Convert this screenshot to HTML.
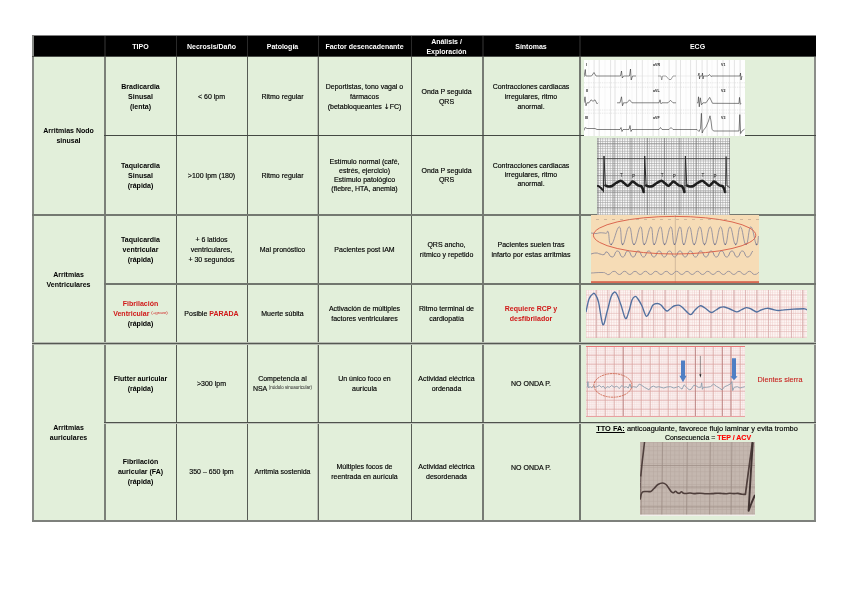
<!DOCTYPE html>
<html><head><meta charset="utf-8">
<style>
html,body{margin:0;padding:0;background:#fff;}
body{width:848px;height:599px;position:relative;overflow:hidden;will-change:transform;font-family:"Liberation Sans",sans-serif;color:#000;}
.bg{position:absolute;left:33px;top:56px;width:782px;height:465px;background:#e2efda;}
.hd{position:absolute;left:32px;top:36px;width:784px;height:20px;background:#000;}
.v{position:absolute;width:1px;background:#5d615b;}
.h{position:absolute;height:1px;background:#474a45;}
.c{position:absolute;box-sizing:border-box;padding-top:2px;display:flex;align-items:center;justify-content:center;text-align:center;font-size:7px;line-height:10px;white-space:nowrap;-webkit-text-stroke:0.15px #000;}
.b,b{font-weight:bold;-webkit-text-stroke-width:0;}
.hc{color:#fff;font-weight:bold;font-size:7px;line-height:10px;-webkit-text-stroke-width:0;}
.r{color:#d01818;-webkit-text-stroke-color:#d01818;}
.sup{font-size:4px;vertical-align:2px;line-height:0;}
.arr{font-family:"DejaVu Sans",sans-serif;}
.img{position:absolute;display:block;}
</style></head><body>

<div class="bg"></div>
<div class="hd"></div>

<!-- vertical lines -->
<div class="v" style="left:32px;top:36px;height:486px;width:2px;background:#868985;"></div>
<div class="v" style="left:104px;top:56px;height:465px;width:2px;background:#7b8078;"></div>
<div class="v" style="left:176px;top:56px;height:465px;background:#535852;"></div>
<div class="v" style="left:247px;top:56px;height:465px;background:#565b54;"></div>
<div class="v" style="left:318px;top:56px;height:465px;background:#5c6159;box-shadow:-1px 0 0 #b9bfb4;"></div>
<div class="v" style="left:411px;top:56px;height:465px;background:#585d56;"></div>
<div class="v" style="left:482px;top:56px;height:465px;width:2px;background:#767b73;"></div>
<div class="v" style="left:579px;top:56px;height:465px;width:2px;background:#737870;"></div>
<div class="v" style="left:814px;top:56px;height:466px;width:2px;background:#8b8d89;"></div>
<div class="v" style="left:104px;top:36px;height:20px;width:2px;background:#1c1c1c;"></div>
<div class="v" style="left:176px;top:36px;height:20px;background:#2a2a2a;"></div>
<div class="v" style="left:247px;top:36px;height:20px;background:#2a2a2a;"></div>
<div class="v" style="left:318px;top:36px;height:20px;background:#2a2a2a;"></div>
<div class="v" style="left:411px;top:36px;height:20px;background:#2a2a2a;"></div>
<div class="v" style="left:482px;top:36px;height:20px;width:2px;background:#1c1c1c;"></div>
<div class="v" style="left:579px;top:36px;height:20px;width:2px;background:#1c1c1c;"></div>
<!-- horizontal lines -->
<div class="h" style="left:32px;top:35px;width:784px;background:#808080;"></div>
<div class="h" style="left:32px;top:56px;width:784px;background:#4a4d48;"></div>
<div class="h" style="left:104px;top:135px;width:712px;background:#444943;"></div>
<div class="h" style="left:32px;top:214px;width:784px;height:2px;background:#747971;"></div>
<div class="h" style="left:104px;top:283px;width:712px;height:2px;background:#71766e;"></div>
<div class="h" style="left:32px;top:343px;width:784px;background:#555953;box-shadow:0 -1px 0 #b6bbb1,0 1px 0 #b6bbb1;"></div>
<div class="h" style="left:104px;top:422px;width:712px;background:#4e524c;box-shadow:0 1px 0 #c0c5bb;"></div>
<div class="h" style="left:32px;top:520px;width:784px;height:2px;background:#7e817c;"></div>

<!-- header -->
<div class="c hc" style="left:105px;top:35px;width:71px;height:21px;"><span>TIPO</span></div>
<div class="c hc" style="left:176px;top:35px;width:71px;height:21px;"><span>Necrosis/Daño</span></div>
<div class="c hc" style="left:247px;top:35px;width:71px;height:21px;"><span>Patología</span></div>
<div class="c hc" style="left:318px;top:35px;width:93px;height:21px;"><span>Factor desencadenante</span></div>
<div class="c hc" style="left:411px;top:35px;width:71px;height:21px;"><span>Análisis /<br>Exploración</span></div>
<div class="c hc" style="left:482px;top:35px;width:98px;height:21px;"><span>Síntomas</span></div>
<div class="c hc" style="left:580px;top:35px;width:235px;height:21px;"><span>ECG</span></div>

<!-- col 1 -->
<div class="c b" style="left:32px;top:56px;width:73px;height:158px;"><span>Arritmias Nodo<br>sinusal</span></div>
<div class="c b" style="left:32px;top:214px;width:73px;height:129px;"><span>Arritmias<br>Ventriculares</span></div>
<div class="c b" style="left:32px;top:343px;width:73px;height:177px;"><span>Arritmias<br>auriculares</span></div>

<!-- row 1 -->
<div class="c b" style="left:105px;top:56px;width:71px;height:79px;"><span>Bradicardia<br>Sinusal<br>(lenta)</span></div>
<div class="c" style="left:176px;top:56px;width:71px;height:79px;"><span>&lt; 60 lpm</span></div>
<div class="c" style="left:247px;top:56px;width:71px;height:79px;"><span>Ritmo regular</span></div>
<div class="c" style="left:318px;top:56px;width:93px;height:79px;"><span>Deportistas, tono vagal o<br>fármacos<br>(betabloqueantes <span class="arr">↓</span>FC)</span></div>
<div class="c" style="left:411px;top:56px;width:71px;height:79px;"><span>Onda P seguida<br>QRS</span></div>
<div class="c" style="left:482px;top:56px;width:98px;height:79px;"><span>Contracciones cardiacas<br>irregulares, ritmo<br>anormal.</span></div>

<!-- row 2 -->
<div class="c b" style="left:105px;top:135px;width:71px;height:79px;"><span>Taquicardia<br>Sinusal<br>(rápida)</span></div>
<div class="c" style="left:176px;top:135px;width:71px;height:79px;"><span>&gt;100 lpm (180)</span></div>
<div class="c" style="left:247px;top:135px;width:71px;height:79px;"><span>Ritmo regular</span></div>
<div class="c" style="left:318px;top:135px;width:93px;height:79px;line-height:9.2px;padding-top:1px;"><span>Estímulo normal (café,<br>estrés, ejercicio)<br>Estímulo patológico<br>(fiebre, HTA, anemia)</span></div>
<div class="c" style="left:411px;top:135px;width:71px;height:79px;line-height:9px;padding-top:0;"><span>Onda P seguida<br>QRS</span></div>
<div class="c" style="left:482px;top:135px;width:98px;height:79px;line-height:9.3px;padding-top:0;"><span>Contracciones cardiacas<br>irregulares, ritmo<br>anormal.</span></div>

<!-- row 3 -->
<div class="c b" style="left:105px;top:214px;width:71px;height:69px;"><span>Taquicardia<br>ventricular<br>(rápida)</span></div>
<div class="c" style="left:176px;top:214px;width:71px;height:69px;"><span>+ 6 latidos<br>ventriculares,<br>+ 30 segundos</span></div>
<div class="c" style="left:247px;top:214px;width:71px;height:69px;"><span>Mal pronóstico</span></div>
<div class="c" style="left:318px;top:214px;width:93px;height:69px;"><span>Pacientes post IAM</span></div>
<div class="c" style="left:411px;top:214px;width:71px;height:69px;"><span>QRS ancho,<br>rítmico y repetido</span></div>
<div class="c" style="left:482px;top:214px;width:98px;height:69px;"><span>Pacientes suelen tras<br>infarto por estas arritmias</span></div>

<!-- row 4 -->
<div class="c b" style="left:105px;top:283px;width:71px;height:60px;"><span><span class="r">Fibrilación<br>Ventricular <span class="sup" style="font-size:4.4px;font-weight:normal;">(+grave)</span></span><br>(rápida)</span></div>
<div class="c" style="left:176px;top:283px;width:71px;height:60px;"><span>Posible <b class="r">PARADA</b></span></div>
<div class="c" style="left:247px;top:283px;width:71px;height:60px;"><span>Muerte súbita</span></div>
<div class="c" style="left:318px;top:283px;width:93px;height:60px;"><span>Activación de múltiples<br>factores ventriculares</span></div>
<div class="c" style="left:411px;top:283px;width:71px;height:60px;"><span>Ritmo terminal de<br>cardiopatía</span></div>
<div class="c b r" style="left:482px;top:283px;width:98px;height:60px;"><span>Requiere RCP y<br>desfibrilador</span></div>

<!-- row 5 -->
<div class="c b" style="left:105px;top:343px;width:71px;height:79px;"><span>Flutter auricular<br>(rápida)</span></div>
<div class="c" style="left:176px;top:343px;width:71px;height:79px;"><span>&gt;300 lpm</span></div>
<div class="c" style="left:247px;top:343px;width:71px;height:79px;"><span>Competencia al<br>NSA <span class="sup" style="font-size:4.5px;-webkit-text-stroke-width:0;color:#222;">(nódulo sinoauricular)</span></span></div>
<div class="c" style="left:318px;top:343px;width:93px;height:79px;"><span>Un único foco en<br>aurícula</span></div>
<div class="c" style="left:411px;top:343px;width:71px;height:79px;"><span>Actividad eléctrica<br>ordenada</span></div>
<div class="c" style="left:482px;top:343px;width:98px;height:79px;"><span>NO ONDA P.</span></div>

<!-- row 6 -->
<div class="c b" style="left:105px;top:422px;width:71px;height:98px;"><span>Fibrilación<br>auricular (FA)<br>(rápida)</span></div>
<div class="c" style="left:176px;top:422px;width:71px;height:98px;"><span>350 – 650 lpm</span></div>
<div class="c" style="left:247px;top:422px;width:71px;height:98px;"><span>Arritmia sostenida</span></div>
<div class="c" style="left:318px;top:422px;width:93px;height:98px;"><span>Múltiples focos de<br>reentrada en aurícula</span></div>
<div class="c" style="left:411px;top:422px;width:71px;height:98px;"><span>Actividad eléctrica<br>desordenada</span></div>
<div class="c" style="left:482px;top:422px;width:98px;height:89px;"><span>NO ONDA P.</span></div>


<svg class="img" style="left:584px;top:60px" width="161" height="76" viewBox="584 60 161 76">
<rect x="584" y="60" width="161" height="76" fill="#fefefe"/>
<line x1="594.1" y1="60" x2="594.1" y2="136" stroke="#d2d2d2" stroke-width="0.6"/>
<line x1="599.2" y1="60" x2="599.2" y2="136" stroke="#d2d2d2" stroke-width="0.6"/>
<line x1="610.6" y1="60" x2="610.6" y2="136" stroke="#d2d2d2" stroke-width="0.6"/>
<line x1="615" y1="60" x2="615" y2="136" stroke="#d2d2d2" stroke-width="0.6"/>
<line x1="626.5" y1="60" x2="626.5" y2="136" stroke="#d2d2d2" stroke-width="0.6"/>
<line x1="636.6" y1="60" x2="636.6" y2="136" stroke="#d2d2d2" stroke-width="0.6"/>
<line x1="642.3" y1="60" x2="642.3" y2="136" stroke="#d2d2d2" stroke-width="0.6"/>
<line x1="653.1" y1="60" x2="653.1" y2="136" stroke="#d2d2d2" stroke-width="0.6"/>
<line x1="658.8" y1="60" x2="658.8" y2="136" stroke="#d2d2d2" stroke-width="0.6"/>
<line x1="669.1" y1="60" x2="669.1" y2="136" stroke="#d2d2d2" stroke-width="0.6"/>
<line x1="676.1" y1="60" x2="676.1" y2="136" stroke="#d2d2d2" stroke-width="0.6"/>
<line x1="680.5" y1="60" x2="680.5" y2="136" stroke="#d2d2d2" stroke-width="0.6"/>
<line x1="690.6" y1="60" x2="690.6" y2="136" stroke="#d2d2d2" stroke-width="0.6"/>
<line x1="696.4" y1="60" x2="696.4" y2="136" stroke="#d2d2d2" stroke-width="0.6"/>
<line x1="702.1" y1="60" x2="702.1" y2="136" stroke="#d2d2d2" stroke-width="0.6"/>
<line x1="707.1" y1="60" x2="707.1" y2="136" stroke="#d2d2d2" stroke-width="0.6"/>
<line x1="717.3" y1="60" x2="717.3" y2="136" stroke="#d2d2d2" stroke-width="0.6"/>
<line x1="723" y1="60" x2="723" y2="136" stroke="#d2d2d2" stroke-width="0.6"/>
<line x1="729.4" y1="60" x2="729.4" y2="136" stroke="#d2d2d2" stroke-width="0.6"/>
<line x1="734.4" y1="60" x2="734.4" y2="136" stroke="#d2d2d2" stroke-width="0.6"/>
<line x1="740.1" y1="60" x2="740.1" y2="136" stroke="#d2d2d2" stroke-width="0.6"/>
<line x1="588.8" y1="60" x2="588.8" y2="136" stroke="#ececec" stroke-width="0.5"/>
<line x1="605" y1="60" x2="605" y2="136" stroke="#ececec" stroke-width="0.5"/>
<line x1="621" y1="60" x2="621" y2="136" stroke="#ececec" stroke-width="0.5"/>
<line x1="632" y1="60" x2="632" y2="136" stroke="#ececec" stroke-width="0.5"/>
<line x1="648" y1="60" x2="648" y2="136" stroke="#ececec" stroke-width="0.5"/>
<line x1="664" y1="60" x2="664" y2="136" stroke="#ececec" stroke-width="0.5"/>
<line x1="686" y1="60" x2="686" y2="136" stroke="#ececec" stroke-width="0.5"/>
<line x1="712" y1="60" x2="712" y2="136" stroke="#ececec" stroke-width="0.5"/>
<line x1="584" y1="82.8" x2="745" y2="82.8" stroke="#d4d4d4" stroke-width="0.6" stroke-dasharray="0.9 0.9"/>
<line x1="584" y1="87.2" x2="745" y2="87.2" stroke="#d4d4d4" stroke-width="0.6" stroke-dasharray="0.9 0.9"/>
<line x1="584" y1="110" x2="745" y2="110" stroke="#d4d4d4" stroke-width="0.6" stroke-dasharray="0.9 0.9"/>
<line x1="584" y1="113.2" x2="745" y2="113.2" stroke="#d4d4d4" stroke-width="0.6" stroke-dasharray="0.9 0.9"/>
<polyline points="584,77 585.3,69.5 585.8,76 591.5,76 594,72.5 596,76 620.5,76 621.5,71 622.3,78 623.5,76 629.5,76 630.5,69 631.2,80 632.5,76 636,76" fill="none" stroke="#333" stroke-width="0.6" stroke-linejoin="round"/>
<polyline points="698,76 699,73 699.5,79 700,76 702,76 702.5,73 703,79 703.5,76 708,76 709.5,74.5 711,76.5 712,76 740,76 740.5,73 741,80 742,76" fill="none" stroke="#333" stroke-width="0.6" stroke-linejoin="round"/>
<polyline points="658,76 661,76 661.7,80 662.5,76 666,76 669,79.5 671,79.5 673,76 676,76" fill="none" stroke="#666" stroke-width="0.6"/>
<line x1="636" y1="76" x2="658" y2="76" stroke="#ddd" stroke-width="0.5"/>
<line x1="676" y1="76" x2="698" y2="76" stroke="#ddd" stroke-width="0.5"/>
<polyline points="584,102.8 585,96.8 586,105.8 587,102.8 589,102.8 591,99.8 593,101.3 595,99.8 597,103.8 598,102.8" fill="none" stroke="#333" stroke-width="0.6" stroke-linejoin="round"/>
<polyline points="617,102.8 620,102.8 621.5,96.8 622.5,105.8 623.5,102.8 627,102.8 629.5,99.8 632,102.8 659,102.8 660,99.8 661,103.8 662,102.8 668,102.8 670.5,100.3 673,102.8 676,102.8" fill="none" stroke="#333" stroke-width="0.6" stroke-linejoin="round"/>
<polyline points="697,102.8 698,102.8 698.5,96.8 699.3,106.8 700.3,97.8 701.5,104.8 703,102.8 706,102.8 709.7,97.4 712.5,103.3 739,103.4 739.5,97.4 740.3,104.3 741,103.4" fill="none" stroke="#333" stroke-width="0.6" stroke-linejoin="round"/>
<polyline points="584,130.5 585,127.5 587,128.5 595,128.5 597,129.5 620,129.5 621,127.5 622,131.5 623,129.5 629,129.5 630,125.5 631,131.5 632,129.5 659,129.5 660.5,127.5 662,129.5 669,129.5 671,127.5 673,129.5 697,129.5 699,131.5 700.5,128.5 701.4,113.3 702.2,133 703.3,130.4 706,127 708.5,121 710,115.8 711,121 712,129.2 713.5,131 739,131 739.8,114.6 740.6,133.6 742,131 744.5,129.2" fill="none" stroke="#333" stroke-width="0.6" stroke-linejoin="round"/>
<text x="586" y="65.7" font-family="Liberation Sans" font-size="3.6" font-weight="bold" fill="#222">I</text>
<text x="653" y="65.7" font-family="Liberation Sans" font-size="3.6" font-weight="bold" fill="#222">aVR</text>
<text x="721" y="65.7" font-family="Liberation Sans" font-size="3.6" font-weight="bold" fill="#222">V1</text>
<text x="586" y="91.7" font-family="Liberation Sans" font-size="3.6" font-weight="bold" fill="#222">II</text>
<text x="653" y="91.7" font-family="Liberation Sans" font-size="3.6" font-weight="bold" fill="#222">aVL</text>
<text x="721" y="91.7" font-family="Liberation Sans" font-size="3.6" font-weight="bold" fill="#222">V2</text>
<text x="585" y="119" font-family="Liberation Sans" font-size="3.6" font-weight="bold" fill="#222">III</text>
<text x="653" y="119" font-family="Liberation Sans" font-size="3.6" font-weight="bold" fill="#222">aVF</text>
<text x="721" y="119" font-family="Liberation Sans" font-size="3.6" font-weight="bold" fill="#222">V3</text>
</svg>
<svg class="img" style="left:597px;top:137.5px" width="133" height="77" viewBox="597 137.5 133 77">
<defs><pattern id="g2" x="597.5" y="138" width="2.45" height="2.45" patternUnits="userSpaceOnUse"><rect width="2.45" height="2.45" fill="#f8f8f8"/><rect width="0.6" height="2.45" fill="#a4a4a4"/><rect width="2.45" height="0.6" fill="#a8a8a8"/></pattern></defs>
<rect x="597" y="137.5" width="133" height="77" fill="url(#g2)"/>
<line x1="598" y1="137.5" x2="598" y2="214.5" stroke="#6a6a6a" stroke-width="0.6"/>
<line x1="614" y1="137.5" x2="614" y2="214.5" stroke="#6a6a6a" stroke-width="0.6"/>
<line x1="631" y1="137.5" x2="631" y2="214.5" stroke="#6a6a6a" stroke-width="0.6"/>
<line x1="647.5" y1="137.5" x2="647.5" y2="214.5" stroke="#6a6a6a" stroke-width="0.6"/>
<line x1="664.5" y1="137.5" x2="664.5" y2="214.5" stroke="#6a6a6a" stroke-width="0.6"/>
<line x1="679.8" y1="137.5" x2="679.8" y2="214.5" stroke="#6a6a6a" stroke-width="0.6"/>
<line x1="696.3" y1="137.5" x2="696.3" y2="214.5" stroke="#6a6a6a" stroke-width="0.6"/>
<line x1="713.3" y1="137.5" x2="713.3" y2="214.5" stroke="#6a6a6a" stroke-width="0.6"/>
<line x1="729.5" y1="137.5" x2="729.5" y2="214.5" stroke="#6a6a6a" stroke-width="0.6"/>
<line x1="597" y1="143.3" x2="730" y2="143.3" stroke="#777" stroke-width="0.55"/>
<line x1="597" y1="175.3" x2="730" y2="175.3" stroke="#777" stroke-width="0.55"/>
<line x1="597" y1="191.6" x2="730" y2="191.6" stroke="#777" stroke-width="0.55"/>
<line x1="597" y1="207.5" x2="730" y2="207.5" stroke="#777" stroke-width="0.55"/>
<line x1="597" y1="158.2" x2="730" y2="158.2" stroke="#333" stroke-width="0.8"/>
<path d="M605.4,185 C605.9,185.2 607.3,185.9 608.4,186 C609.5,186.1 610.7,186.1 612,185.5 C613.3,184.9 614.5,183.4 616,182.5 C617.5,181.6 619.5,180.2 620.8,180.2 C622.1,180.2 622.9,181.7 624,182.5 C625.1,183.3 626.6,185.1 627.6,185.3 C628.6,185.5 629.2,184.2 630,183.5 C630.8,182.8 631.7,181.2 632.5,181 C633.3,180.8 634.1,181.9 635,182.5 C635.9,183.1 637,184.2 638,184.8 C639,185.4 640.5,185.1 641.3,185.8 C642.1,186.5 642.6,188.1 643,189 C643.4,189.9 643.5,191.1 643.6,191.5" fill="none" stroke="#1e1e1e" stroke-width="2.6" stroke-linecap="round"/>
<polyline points="603.4,192 604,155.5 605.4,185.5" fill="none" stroke="#2a2a2a" stroke-width="1"/>
<path d="M646.1,185 C646.6,185.2 648,185.9 649.1,186 C650.2,186.1 651.4,186.1 652.7,185.5 C654,184.9 655.2,183.4 656.7,182.5 C658.2,181.6 660.2,180.2 661.5,180.2 C662.8,180.2 663.6,181.7 664.7,182.5 C665.8,183.3 667.3,185.1 668.3,185.3 C669.3,185.5 669.9,184.2 670.7,183.5 C671.5,182.8 672.4,181.2 673.2,181 C674,180.8 674.8,181.9 675.7,182.5 C676.6,183.1 677.7,184.2 678.7,184.8 C679.8,185.4 681.2,185.1 682,185.8 C682.8,186.5 683.3,188.1 683.7,189 C684.1,189.9 684.2,191.1 684.3,191.5" fill="none" stroke="#1e1e1e" stroke-width="2.6" stroke-linecap="round"/>
<polyline points="644.1,192 644.7,155.5 646.1,185.5" fill="none" stroke="#2a2a2a" stroke-width="1"/>
<path d="M686.8,185 C687.3,185.2 688.7,185.9 689.8,186 C690.9,186.1 692.1,186.1 693.4,185.5 C694.7,184.9 695.9,183.4 697.4,182.5 C698.9,181.6 700.9,180.2 702.2,180.2 C703.5,180.2 704.3,181.7 705.4,182.5 C706.5,183.3 708,185.1 709,185.3 C710,185.5 710.6,184.2 711.4,183.5 C712.2,182.8 713.1,181.2 713.9,181 C714.7,180.8 715.5,181.9 716.4,182.5 C717.3,183.1 718.4,184.2 719.4,184.8 C720.4,185.4 721.9,185.1 722.7,185.8 C723.5,186.5 724,188.1 724.4,189 C724.8,189.9 724.9,191.1 725,191.5" fill="none" stroke="#1e1e1e" stroke-width="2.6" stroke-linecap="round"/>
<polyline points="684.8,192 685.4,155.5 686.8,185.5" fill="none" stroke="#2a2a2a" stroke-width="1"/>
<path d="M597,185 C597.3,185.2 598.3,185.6 599,186 C599.7,186.4 600.3,186.8 601,187.5 C601.7,188.2 602.7,189.6 603,190" fill="none" stroke="#1e1e1e" stroke-width="2"/>
<polyline points="725.3,192.5 726.1,156 727,185.5 730,187" fill="none" stroke="#3a3a3a" stroke-width="0.9"/>
<text x="620" y="176.3" font-family="Liberation Sans" font-size="4.6" fill="#222">T</text><text x="632" y="177" font-family="Liberation Sans" font-size="4.6" fill="#222">P</text>
<text x="660.7" y="176.3" font-family="Liberation Sans" font-size="4.6" fill="#222">T</text><text x="672.7" y="177" font-family="Liberation Sans" font-size="4.6" fill="#222">P</text>
<text x="701.4" y="176.3" font-family="Liberation Sans" font-size="4.6" fill="#222">T</text><text x="713.4" y="177" font-family="Liberation Sans" font-size="4.6" fill="#222">P</text>
</svg>
<svg class="img" style="left:591px;top:215px" width="168" height="68" viewBox="591 215 168 68">
<rect x="591" y="215" width="168" height="68" fill="#f6dcb6"/>
<line x1="675.3" y1="215" x2="675.3" y2="283" stroke="#b9a08c" stroke-width="0.6"/>
<rect x="591" y="281.3" width="168" height="1.5" fill="#d0503c"/>
<path d="M591,233 C592.2,233.1 593.9,233.5 596,233.5 C598.1,233.5 598.1,232.9 600,232.8 C601.9,232.7 602.5,232.9 604,233 C605.5,233.1 605.4,233.5 606.4,233.3 C607.4,233.1 607.2,229.4 608.3,232.1 C609.4,234.8 608.7,246 611.3,244.8 C613.9,243.6 616.7,226.8 619.3,226.8 C621.9,226.8 620.3,244.8 622.6,244.8 C624.9,244.8 626.5,226.8 629.2,226.8 C631.9,226.8 631.3,244.8 634,244.8 C636.7,244.8 638.2,226.8 640.6,226.8 C643,226.8 641.9,244.8 644.3,244.8 C646.7,244.8 648.6,226.8 650.9,226.8 C653.2,226.8 652,244.8 654.2,244.8 C656.4,244.8 658,226.8 660.4,226.8 C662.8,226.8 662.2,244.8 664.6,244.8 C667,244.8 668.5,226.8 670.8,226.8 C673.1,226.8 672.4,244.8 674.5,244.8 C676.6,244.8 677.8,226.8 680,226.8 C682.2,226.8 681.6,244.8 683.8,244.8 C686,244.8 687,226.8 689.4,226.8 C691.8,226.8 691.8,244.8 694.2,244.8 C696.6,244.8 697.4,226.8 699.8,226.8 C702.2,226.8 702.1,244.8 704.5,244.8 C706.9,244.8 707.8,226.8 710.2,226.8 C712.6,226.8 712.5,244.8 714.9,244.8 C717.3,244.8 718.2,226.8 720.6,226.8 C723,226.8 723.1,244.8 725.3,244.8 C727.5,244.8 727.6,226.8 730,226.8 C732.4,226.8 733.3,244.8 735.7,244.8 C738.1,244.8 738,226.8 740.4,226.8 C742.8,226.8 743.6,244.8 746,244.8 C748.4,244.8 748.4,226.8 750.8,226.8 C753.2,226.8 754.6,242.7 756.4,244.8 C758.2,246.9 758,238.1 758.5,236" fill="none" stroke="#85859a" stroke-width="0.8" stroke-linejoin="round"/>
<circle cx="611.3" cy="244.2" r="0.7" fill="#6a6a80"/>
<circle cx="622.6" cy="244.2" r="0.7" fill="#6a6a80"/>
<circle cx="634" cy="244.2" r="0.7" fill="#6a6a80"/>
<circle cx="644.3" cy="244.2" r="0.7" fill="#6a6a80"/>
<circle cx="654.2" cy="244.2" r="0.7" fill="#6a6a80"/>
<circle cx="664.6" cy="244.2" r="0.7" fill="#6a6a80"/>
<circle cx="674.5" cy="244.2" r="0.7" fill="#6a6a80"/>
<circle cx="683.8" cy="244.2" r="0.7" fill="#6a6a80"/>
<circle cx="694.2" cy="244.2" r="0.7" fill="#6a6a80"/>
<circle cx="704.5" cy="244.2" r="0.7" fill="#6a6a80"/>
<circle cx="714.9" cy="244.2" r="0.7" fill="#6a6a80"/>
<circle cx="725.3" cy="244.2" r="0.7" fill="#6a6a80"/>
<circle cx="735.7" cy="244.2" r="0.7" fill="#6a6a80"/>
<circle cx="746" cy="244.2" r="0.7" fill="#6a6a80"/>
<circle cx="756.4" cy="244.2" r="0.7" fill="#6a6a80"/>
<path d="M591,254 C592.5,253.7 593.3,253 596,253 C598.7,253 597.6,253.6 600,254 C602.4,254.4 601.9,255.1 604,254.5 C606.1,253.9 604.5,251.2 607,252 C609.5,252.8 609.1,257.3 612.3,257 C615.4,256.7 614.4,251 617.5,251 C620.6,251 619.6,257 622.7,257 C625.8,257 624.8,251 627.9,251 C631,251 630,257 633.1,257 C636.2,257 635.2,251 638.3,251 C641.4,251 640.4,257 643.5,257 C646.6,257 645.6,251 648.7,251 C651.8,251 650.8,257 653.9,257 C657,257 656,251 659.1,251 C662.2,251 661.2,257 664.3,257 C667.4,257 666.4,251 669.5,251 C672.6,251 671.6,257 674.7,257 C677.8,257 676.8,251 679.9,251 C683,251 682,257 685.1,257 C688.2,257 687.2,251 690.3,251 C693.4,251 692.4,257 695.5,257 C698.6,257 697.6,251 700.7,251 C703.8,251 702.8,257 705.9,257 C709,257 708,251 711.1,251 C714.2,251 713.2,257 716.3,257 C719.4,257 718.4,251 721.5,251 C724.6,251 723.6,257 726.7,257 C729.8,257 728.8,251 731.9,251 C735,251 734,257 737.1,257 C740.2,257 739.2,251 742.3,251 C745.4,251 744.4,257 747.5,257 C750.6,257 751.1,252.8 752.7,251" fill="none" stroke="#8a8898" stroke-width="0.9"/>
<path d="M591,273 C594.3,272.9 597.5,272.4 602,272.5 C606.5,272.6 603.9,272.9 606,273.5 C608.1,274.1 606.5,275.2 609,274.5 C611.5,273.8 611.1,271.3 614.2,271.3 C617.3,271.3 616.3,274.5 619.4,274.5 C622.5,274.5 621.5,271.3 624.6,271.3 C627.7,271.3 626.7,274.5 629.8,274.5 C632.9,274.5 631.9,271.3 635,271.3 C638.1,271.3 637.1,274.5 640.2,274.5 C643.3,274.5 642.3,271.3 645.4,271.3 C648.5,271.3 647.5,274.5 650.6,274.5 C653.7,274.5 652.7,271.3 655.8,271.3 C658.9,271.3 657.9,274.5 661,274.5 C664.1,274.5 663.1,271.3 666.2,271.3 C669.3,271.3 668.3,274.5 671.4,274.5 C674.5,274.5 673.5,271.3 676.6,271.3 C679.7,271.3 678.7,274.5 681.8,274.5 C684.9,274.5 683.9,271.3 687,271.3 C690.1,271.3 689.1,274.5 692.2,274.5 C695.3,274.5 694.3,271.3 697.4,271.3 C700.5,271.3 699.5,274.5 702.6,274.5 C705.7,274.5 704.7,271.3 707.8,271.3 C710.9,271.3 709.9,274.5 713,274.5 C716.1,274.5 715.1,271.3 718.2,271.3 C721.3,271.3 720.3,274.5 723.4,274.5 C726.5,274.5 725.5,271.3 728.6,271.3 C731.7,271.3 730.7,274.5 733.8,274.5 C736.9,274.5 735.9,271.3 739,271.3 C742.1,271.3 741.1,274.5 744.2,274.5 C747.3,274.5 746.3,271.3 749.4,271.3 C752.5,271.3 751.5,274.5 754.6,274.5 C757.7,274.5 758.2,272.3 759.8,271.3" fill="none" stroke="#8a8898" stroke-width="0.8"/>
<ellipse cx="674.6" cy="235.2" rx="81.2" ry="18.8" fill="none" stroke="#d9604a" stroke-width="0.95"/>
<rect x="596" y="219" width="3" height="0.9" fill="#a89080" opacity="0.55"/>
<rect x="604" y="219" width="3" height="0.9" fill="#a89080" opacity="0.55"/>
<rect x="612" y="219" width="3" height="0.9" fill="#a89080" opacity="0.55"/>
<rect x="620" y="219" width="3" height="0.9" fill="#a89080" opacity="0.55"/>
<rect x="628" y="219" width="3" height="0.9" fill="#a89080" opacity="0.55"/>
<rect x="636" y="219" width="3" height="0.9" fill="#a89080" opacity="0.55"/>
<rect x="644" y="219" width="3" height="0.9" fill="#a89080" opacity="0.55"/>
<rect x="652" y="219" width="3" height="0.9" fill="#a89080" opacity="0.55"/>
<rect x="660" y="219" width="3" height="0.9" fill="#a89080" opacity="0.55"/>
<rect x="668" y="219" width="3" height="0.9" fill="#a89080" opacity="0.55"/>
<rect x="676" y="219" width="3" height="0.9" fill="#a89080" opacity="0.55"/>
<rect x="684" y="219" width="3" height="0.9" fill="#a89080" opacity="0.55"/>
<rect x="692" y="219" width="3" height="0.9" fill="#a89080" opacity="0.55"/>
<rect x="700" y="219" width="3" height="0.9" fill="#a89080" opacity="0.55"/>
<rect x="708" y="219" width="3" height="0.9" fill="#a89080" opacity="0.55"/>
<rect x="716" y="219" width="3" height="0.9" fill="#a89080" opacity="0.55"/>
<rect x="724" y="219" width="3" height="0.9" fill="#a89080" opacity="0.55"/>
<rect x="732" y="219" width="3" height="0.9" fill="#a89080" opacity="0.55"/>
<rect x="740" y="219" width="3" height="0.9" fill="#a89080" opacity="0.55"/>
<rect x="748" y="219" width="3" height="0.9" fill="#a89080" opacity="0.55"/>
<rect x="756" y="219" width="3" height="0.9" fill="#a89080" opacity="0.55"/>
</svg>
<svg class="img" style="left:586px;top:290px" width="221" height="48" viewBox="586 290 221 48">
<defs><pattern id="g4" x="586" y="290" width="2.3" height="2.3" patternUnits="userSpaceOnUse"><rect width="2.3" height="2.3" fill="#fdf6f4"/><rect width="0.3" height="2.3" fill="#e6b4b2"/><rect width="2.3" height="0.22" fill="#efcac8"/></pattern></defs>
<rect x="586" y="290" width="221" height="48" fill="url(#g4)"/>
<line x1="596.3" y1="290" x2="596.3" y2="338" stroke="#b88080" stroke-width="0.6"/>
<line x1="607.8" y1="290" x2="607.8" y2="338" stroke="#cc9a9a" stroke-width="0.6"/>
<line x1="619.3" y1="290" x2="619.3" y2="338" stroke="#b88080" stroke-width="0.6"/>
<line x1="630.7" y1="290" x2="630.7" y2="338" stroke="#cc9a9a" stroke-width="0.6"/>
<line x1="642.2" y1="290" x2="642.2" y2="338" stroke="#b88080" stroke-width="0.6"/>
<line x1="653.7" y1="290" x2="653.7" y2="338" stroke="#cc9a9a" stroke-width="0.6"/>
<line x1="665.2" y1="290" x2="665.2" y2="338" stroke="#b88080" stroke-width="0.6"/>
<line x1="676.7" y1="290" x2="676.7" y2="338" stroke="#cc9a9a" stroke-width="0.6"/>
<line x1="688.1" y1="290" x2="688.1" y2="338" stroke="#b88080" stroke-width="0.6"/>
<line x1="699.6" y1="290" x2="699.6" y2="338" stroke="#cc9a9a" stroke-width="0.6"/>
<line x1="711.1" y1="290" x2="711.1" y2="338" stroke="#b88080" stroke-width="0.6"/>
<line x1="722.6" y1="290" x2="722.6" y2="338" stroke="#cc9a9a" stroke-width="0.6"/>
<line x1="734.1" y1="290" x2="734.1" y2="338" stroke="#b88080" stroke-width="0.6"/>
<line x1="745.5" y1="290" x2="745.5" y2="338" stroke="#cc9a9a" stroke-width="0.6"/>
<line x1="757" y1="290" x2="757" y2="338" stroke="#b88080" stroke-width="0.6"/>
<line x1="768.5" y1="290" x2="768.5" y2="338" stroke="#cc9a9a" stroke-width="0.6"/>
<line x1="780" y1="290" x2="780" y2="338" stroke="#b88080" stroke-width="0.6"/>
<line x1="791.5" y1="290" x2="791.5" y2="338" stroke="#cc9a9a" stroke-width="0.6"/>
<line x1="802.9" y1="290" x2="802.9" y2="338" stroke="#b88080" stroke-width="0.6"/>
<line x1="586" y1="295" x2="807" y2="295" stroke="#deaeac" stroke-width="0.5"/>
<line x1="586" y1="301.1" x2="807" y2="301.1" stroke="#deaeac" stroke-width="0.5"/>
<line x1="586" y1="307.2" x2="807" y2="307.2" stroke="#deaeac" stroke-width="0.5"/>
<line x1="586" y1="313.3" x2="807" y2="313.3" stroke="#deaeac" stroke-width="0.5"/>
<line x1="586" y1="319.4" x2="807" y2="319.4" stroke="#deaeac" stroke-width="0.5"/>
<line x1="586" y1="325.5" x2="807" y2="325.5" stroke="#deaeac" stroke-width="0.5"/>
<line x1="586" y1="331.6" x2="807" y2="331.6" stroke="#deaeac" stroke-width="0.5"/>
<line x1="586" y1="337.7" x2="807" y2="337.7" stroke="#deaeac" stroke-width="0.5"/>
<path d="M586.1,311.5 C586.6,309.4 587.9,302 589,299 C590.1,296 592,294.4 593,293.7 C594,292.9 594.4,293.1 595.3,294.5 C596.2,295.9 597.2,297 598.5,302 C599.8,307 601.5,323 602.9,324.7 C604.3,326.4 605.6,316.6 607,312 C608.4,307.4 609.8,300.3 611,297 C612.2,293.7 613.4,292.5 614.4,292.1 C615.4,291.7 615.9,292.4 617,294.5 C618.1,296.6 619.6,301 621,305 C622.4,309 624.2,317.5 625.5,318.5 C626.8,319.5 627.9,314.1 629,311 C630.1,307.9 631,302.4 632,300 C633,297.6 634.2,296.6 635.2,296.4 C636.2,296.2 636.9,297.4 638,299 C639.1,300.6 640.6,303.1 642,306 C643.4,308.9 645,315.4 646.3,316.2 C647.6,317 648.9,312.9 650,311 C651.1,309.1 651.8,306.2 653,305 C654.2,303.8 655.9,303.5 657.2,303.5 C658.5,303.5 659.9,304.1 661,305 C662.1,305.9 663,307.6 664,308.6 C665,309.6 666,310.9 667,311 C668,311.1 668.8,309.8 670,309 C671.2,308.2 672.4,306.6 674,306 C675.6,305.4 677.9,304.8 679.6,305.3 C681.3,305.8 682.6,307.7 684,309 C685.4,310.3 686.8,312.1 688,313 C689.2,313.9 689.9,315 691.1,314.5 C692.3,314 693.5,311.4 695,310 C696.5,308.6 698.3,306.1 700,305.8 C701.7,305.5 703.1,306.9 705,308 C706.9,309.1 709.5,312.2 711.3,312.5 C713.1,312.8 714.5,310.8 716,310 C717.5,309.2 718.6,308 720,307.5 C721.4,307 722.7,306.8 724.4,307 C726.1,307.2 728,308.2 730,309 C732,309.8 734.8,311.6 736.6,311.8 C738.4,312 739.4,310.7 741,310 C742.6,309.3 744.5,307.8 746.2,307.6 C747.9,307.4 749.2,308.3 751,309 C752.8,309.7 755,311.8 756.7,312 C758.4,312.2 759.2,310.6 761,310 C762.8,309.4 765.2,308.4 767.2,308.3 C769.2,308.2 771.1,309.1 773,309.5 C774.9,309.9 776.7,310.4 778.5,310.5 C780.3,310.6 782,310 784,309.8 C786,309.6 788.6,309.4 790.8,309.3 C793,309.2 794.7,309.1 797,309 C799.3,308.9 803.1,308.7 804.7,308.8 C806.3,308.9 806.4,309.6 806.8,309.7" fill="none" stroke="#52709f" stroke-width="1.35" stroke-linejoin="round" stroke-linecap="round"/>
</svg>
<svg class="img" style="left:586px;top:346px" width="159" height="71" viewBox="586 346 159 71">
<defs><pattern id="g5" x="587.2" y="346.4" width="1.8" height="1.8" patternUnits="userSpaceOnUse"><rect width="1.8" height="1.8" fill="#fcf3f2"/><rect width="0.3" height="1.8" fill="#eed0ce"/><rect width="1.8" height="0.3" fill="#eed0ce"/></pattern></defs>
<rect x="586" y="346" width="159" height="71" fill="url(#g5)"/>
<line x1="587.2" y1="346" x2="587.2" y2="417" stroke="#d49c9a" stroke-width="0.7"/>
<line x1="596.2" y1="346" x2="596.2" y2="417" stroke="#d49c9a" stroke-width="0.7"/>
<line x1="605.2" y1="346" x2="605.2" y2="417" stroke="#d49c9a" stroke-width="0.7"/>
<line x1="614.2" y1="346" x2="614.2" y2="417" stroke="#d49c9a" stroke-width="0.7"/>
<line x1="623.2" y1="346" x2="623.2" y2="417" stroke="#d49c9a" stroke-width="0.7"/>
<line x1="632.2" y1="346" x2="632.2" y2="417" stroke="#d49c9a" stroke-width="0.7"/>
<line x1="641.2" y1="346" x2="641.2" y2="417" stroke="#d49c9a" stroke-width="0.7"/>
<line x1="650.2" y1="346" x2="650.2" y2="417" stroke="#d49c9a" stroke-width="0.7"/>
<line x1="659.2" y1="346" x2="659.2" y2="417" stroke="#d49c9a" stroke-width="0.7"/>
<line x1="668.2" y1="346" x2="668.2" y2="417" stroke="#d49c9a" stroke-width="0.7"/>
<line x1="677.2" y1="346" x2="677.2" y2="417" stroke="#d49c9a" stroke-width="0.7"/>
<line x1="686.2" y1="346" x2="686.2" y2="417" stroke="#d49c9a" stroke-width="0.7"/>
<line x1="695.2" y1="346" x2="695.2" y2="417" stroke="#d49c9a" stroke-width="0.7"/>
<line x1="704.2" y1="346" x2="704.2" y2="417" stroke="#d49c9a" stroke-width="0.7"/>
<line x1="713.2" y1="346" x2="713.2" y2="417" stroke="#d49c9a" stroke-width="0.7"/>
<line x1="722.2" y1="346" x2="722.2" y2="417" stroke="#d49c9a" stroke-width="0.7"/>
<line x1="731.2" y1="346" x2="731.2" y2="417" stroke="#d49c9a" stroke-width="0.7"/>
<line x1="740.2" y1="346" x2="740.2" y2="417" stroke="#d49c9a" stroke-width="0.7"/>
<line x1="586" y1="355.2" x2="745" y2="355.2" stroke="#dca2a0" stroke-width="0.7"/>
<line x1="586" y1="364.2" x2="745" y2="364.2" stroke="#dca2a0" stroke-width="0.7"/>
<line x1="586" y1="373.2" x2="745" y2="373.2" stroke="#dca2a0" stroke-width="0.7"/>
<line x1="586" y1="382.2" x2="745" y2="382.2" stroke="#dca2a0" stroke-width="0.7"/>
<line x1="586" y1="391.2" x2="745" y2="391.2" stroke="#dca2a0" stroke-width="0.7"/>
<line x1="586" y1="400.2" x2="745" y2="400.2" stroke="#dca2a0" stroke-width="0.7"/>
<line x1="586" y1="409.2" x2="745" y2="409.2" stroke="#dca2a0" stroke-width="0.7"/>
<line x1="623.2" y1="346" x2="623.2" y2="417" stroke="#a86a6a" stroke-width="0.55"/>
<line x1="695.5" y1="346" x2="695.5" y2="417" stroke="#a86a6a" stroke-width="0.55"/>
<line x1="722.4" y1="346" x2="722.4" y2="417" stroke="#a86a6a" stroke-width="0.55"/>
<line x1="730.8" y1="346" x2="730.8" y2="417" stroke="#a86a6a" stroke-width="0.55"/>
<rect x="586" y="346" width="159" height="1" fill="#e87878"/>
<rect x="586" y="416" width="159" height="1" fill="#e8a0a0"/>
<polyline points="586.6,387.3 587.5,386.4 587.9,381.6 588.4,388 588.9,387.3 590.4,386.7 591.7,388 593.6,385.4 594.9,387.3 596.9,386.7 599.4,385.4 601.4,387.3 603.3,386.1 605.2,388.6 607.1,386.7 609.7,387.3 611.6,385.4 614.2,387.3 616.8,386.1 619.3,388.6 621.9,385.4 623.8,387.3 626.4,386.7 628.3,388 630,383.9 631,387.7 633.5,386.7 636.7,387.3 639.3,384.1 641.8,385.4 644.4,387.3 647,388.6 648.9,389.9 650.8,387.3 653.4,386.1 656,387.3 658.6,386.7 661.1,387.3 663.7,388 666.9,387 670.6,386.7 673.8,388 676.4,387.3 678.9,386.4 680.9,388.6 682.1,389 684.1,384.8 686,386.7 689.2,389.9 691.1,389.3 693.7,385.4 695.6,385.4 698.2,387.3 700.8,387.3 701.7,382.8 702.4,389.3 703.3,387.3 706.6,387.3 710.4,386.7 713.6,384.1 716.2,386.1 719.4,388 722,389.9 724.6,386.7 727.8,385.4 731,383.5 731.9,381.6 732.7,390.6 734.2,387.3 737.4,386.7 740,388 742.6,387.3 744.9,386.7" fill="none" stroke="#8b9cab" stroke-width="0.9" stroke-linejoin="round"/>
<ellipse cx="612.9" cy="385.4" rx="19" ry="11.8" fill="none" stroke="#c9553a" stroke-width="0.8" stroke-dasharray="2 0.7"/>
<polygon points="681,360.4 685,360.4 685,375.8 686.6,375.8 683,382.2 679.4,375.8 681,375.8" fill="#4f7fc4"/>
<polygon points="732,358.2 736,358.2 736,376.2 737.6,376.2 734,380.3 730.4,376.2 732,376.2" fill="#4f7fc4"/>
<line x1="700.4" y1="355.9" x2="700.4" y2="376" stroke="#222" stroke-width="0.45"/>
<polygon points="699.4,374.2 701.4,374.2 700.4,377.8" fill="#222"/>
</svg>
<svg class="img" style="left:640px;top:442px" width="115" height="74" viewBox="640 442 115 74">
<defs><pattern id="g6" x="640" y="442" width="4.3" height="4.2" patternUnits="userSpaceOnUse"><rect width="4.3" height="4.2" fill="#c4b7af"/><rect width="0.5" height="4.2" fill="#b5a69e"/><rect width="4.3" height="0.5" fill="#b7a8a0"/></pattern></defs>
<rect x="640" y="442" width="115" height="74" fill="url(#g6)"/>
<line x1="642" y1="442" x2="641.2" y2="516" stroke="#9e8d86" stroke-width="0.75"/>
<line x1="662.6" y1="442" x2="661.8000000000001" y2="516" stroke="#9e8d86" stroke-width="0.75"/>
<line x1="687.3" y1="442" x2="686.5" y2="516" stroke="#9e8d86" stroke-width="0.75"/>
<line x1="710.4" y1="442" x2="709.6" y2="516" stroke="#9e8d86" stroke-width="0.75"/>
<line x1="731.9" y1="442" x2="731.1" y2="516" stroke="#9e8d86" stroke-width="0.75"/>
<line x1="640" y1="465.5" x2="755" y2="465.5" stroke="#9e8d86" stroke-width="0.75"/>
<line x1="640" y1="487" x2="755" y2="487" stroke="#9e8d86" stroke-width="0.75"/>
<line x1="640" y1="506.9" x2="755" y2="506.9" stroke="#9e8d86" stroke-width="0.75"/>
<rect x="640" y="514.6" width="115" height="1.4" fill="#f2f0ec"/>
<path d="M644.5,442 C643.5,452 642,462 640.8,476" fill="none" stroke="#4f3f3c" stroke-width="1.6" stroke-linejoin="round" stroke-linecap="round"/>
<path d="M640.8,476 C640.4,485 640.2,492 640.2,499" fill="none" stroke="#6d5d5a" stroke-width="1" />
<path d="M640.2,499 C640.5,497.9 640.9,494.9 641.5,493.5 C642.1,492.1 642.1,492.2 643,491.8 C643.9,491.4 644.5,491.6 646,491.5 C647.5,491.4 649.1,492 650.7,491.4 C652.3,490.8 652.5,489.9 654,488.5 C655.5,487.1 656.3,485.6 658,484.5 C659.7,483.4 661,483 662.6,483 C664.2,483 664.7,483.4 666,484.5 C667.3,485.6 667.9,487 669,488.5 C670.1,490 670.5,490.9 671.4,491.8 C672.3,492.7 672.7,492.9 673.5,492.8 C674.3,492.7 674.7,491.2 675.5,491.2 C676.3,491.2 676.7,492.4 677.5,492.8 C678.3,493.2 678.7,493.5 679.5,493.3 C680.3,493.1 680.7,491.8 681.5,491.8 C682.3,491.8 682.6,492.9 683.5,493.2 C684.4,493.5 684.7,493.5 686,493.5 C687.3,493.5 688.4,493 690,493 C691.6,493 692,493.6 694,493.6 C696,493.6 697.6,493.2 700,493.2 C702.4,493.2 703.6,493.7 706,493.8 C708.4,493.9 709.6,493.7 712,493.6 C714.4,493.5 716,493.2 718,493.2 C720,493.2 720.4,493.4 722,493.5 C723.6,493.6 724.4,493.8 726,493.8 C727.6,493.8 728.4,493.3 730,493.3 C731.6,493.3 732.4,493.6 734,493.6 C735.6,493.6 736.4,493.3 738,493.4 C739.6,493.5 740.5,494.1 742,494.3 C743.5,494.5 744.7,494.4 745.4,494.4" fill="none" stroke="#4f3f3c" stroke-width="1.6" stroke-linejoin="round" stroke-linecap="round"/>
<polyline points="745.4,494.4 752.4,442" fill="none" stroke="#4f3f3c" stroke-width="1.7"/>
<polyline points="752.8,442.5 751,470 748.6,510.8 751.5,503 755,495" fill="none" stroke="#3f3230" stroke-width="1.9" stroke-linejoin="round"/>
</svg>
<div class="c r" style="left:750px;top:370px;width:60px;height:20px;padding-top:0;font-size:7.3px;color:#c8201e;-webkit-text-stroke:0.1px #c8201e;"><span>Dientes sierra</span></div>
<div class="c" style="left:577px;top:423px;width:240px;height:11px;padding-top:0;font-size:7.4px;"><span><b><u>TTO FA:</u></b> anticoagulante, favorece flujo laminar y evita trombo</span></div>
<div class="c" style="left:648px;top:432px;width:120px;height:11px;padding-top:0;font-size:7px;"><span>Consecuencia = <b style="color:#f00;-webkit-text-stroke:0.1px #f00;">TEP / ACV</b></span></div>
</body></html>
